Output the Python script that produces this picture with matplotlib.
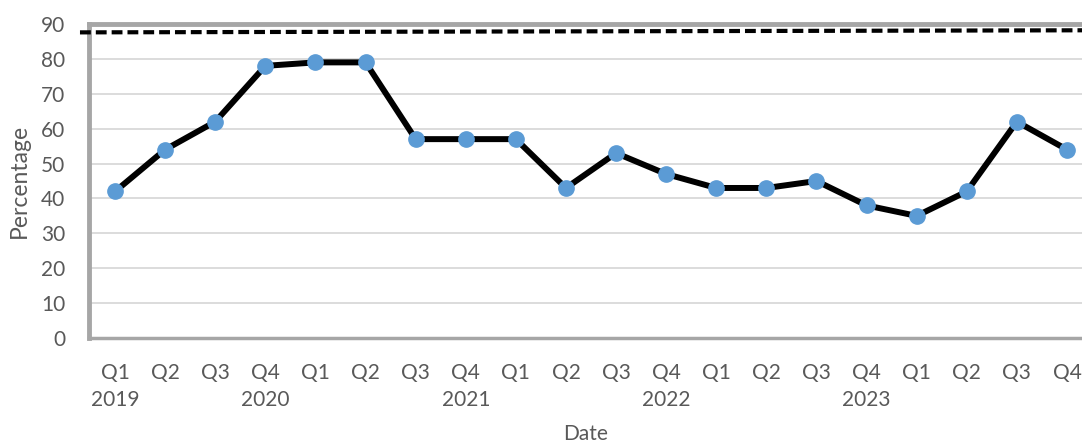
import matplotlib
matplotlib.use("Agg")
import matplotlib.pyplot as plt
import numpy as np

quarters = ["Q1", "Q2", "Q3", "Q4", "Q1", "Q2", "Q3", "Q4", "Q1", "Q2",
            "Q3", "Q4", "Q1", "Q2", "Q3", "Q4", "Q1", "Q2", "Q3", "Q4"]
years = ["2019", "", "", "2020", "", "", "", "2021", "", "",
         "", "2022", "", "", "", "2023", "", "", "", ""]
percentage = [42, 54, 62, 78, 79, 79, 57, 57, 57, 43,
              53, 47, 43, 43, 45, 38, 35, 42, 62, 54]
target_start, target_end = 87.6, 88.2

plt.rcParams["font.family"] = ["Lato", "DejaVu Sans"]
text_color = "#595959"

fig = plt.figure(figsize=(10.82, 4.46), dpi=100)
ax = fig.add_axes([89 / 1082, 1 - 338 / 446, 1 - 89 / 1082, (338 - 24) / 446])

x = np.arange(len(percentage))
ax.plot(x, percentage, color="black", lw=4.3, marker="o", ms=11,
        mfc="#5B9BD5", mec="#5B9BD5", zorder=3, solid_joinstyle="miter")

# target line, running slightly past the left axis
ax.plot([-0.7, 19.4], [target_start, target_end], color="black", lw=3,
        ls=(0, (2.6, 1.2)), clip_on=False, zorder=4)

ax.set_xlim(-0.52, 19.3)
ax.set_ylim(0, 90)
ax.set_yticks(range(0, 91, 10))
ax.yaxis.grid(True, color="#D9D9D9", lw=1.3)
ax.set_axisbelow(True)

ax.set_xticks(x)
ax.set_xticklabels([f"{q}\n{y}" for q, y in zip(quarters, years)],
                   linespacing=1.45, va="top")
ax.tick_params(axis="both", length=0, labelsize=15, colors=text_color)
ax.tick_params(axis="x", pad=18)
ax.tick_params(axis="y", pad=17)

for side in ("top", "left"):
    ax.spines[side].set_color("#A6A6A6")
    ax.spines[side].set_linewidth(3.5)
ax.spines["bottom"].set_color("#A6A6A6")
ax.spines["bottom"].set_linewidth(2.5)
ax.spines["right"].set_visible(False)

ax.set_xlabel("Date", fontsize=15, color=text_color, labelpad=10)
ax.set_ylabel("Percentage", fontsize=16.5, color=text_color, labelpad=8)

fig.savefig("out.png", dpi=100)
